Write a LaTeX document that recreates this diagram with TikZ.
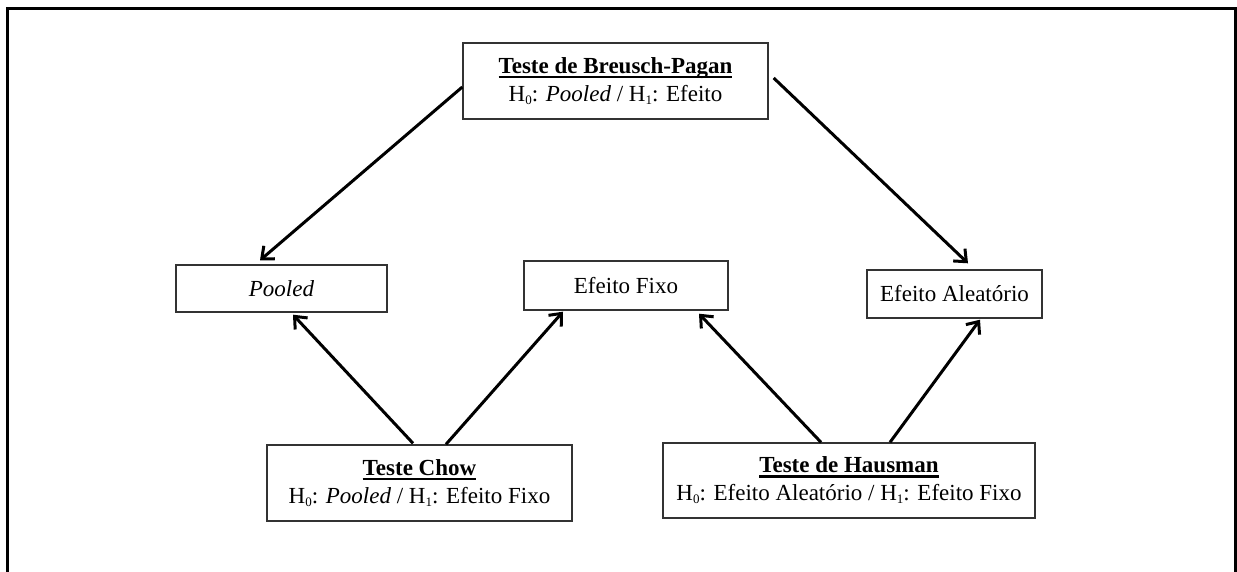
\documentclass[tikz,border=0pt]{standalone}
\usepackage{fontspec}
\setmainfont{Liberation Serif}
\usetikzlibrary{arrows.meta}
\newcommand\titleul[1]{\setbox0\hbox{\bfseries #1}\rlap{\rule[-5pt]{\wd0}{2.8pt}}\box0}
\newcommand\lowidx[1]{\raisebox{-3pt}{\fontsize{13}{13}\selectfont #1}}
\tikzset{
  box/.style={draw=black!80, line width=1.4pt, rectangle, inner sep=0pt, align=center,
    font=\fontsize{23}{28}\selectfont},
  conn/.style={line width=3pt, -{Straight Barb[length=10pt,width=17pt,line width=3pt]}},
  frame/.style={line width=3pt}
}
\begin{document}
\begin{tikzpicture}[x=1pt,y=-1pt]
\useasboundingbox (0,0) rectangle (1237,571);
\draw[frame] (7,580) -- (7,8.5) -- (1235.5,8.5) -- (1235.5,580);

\node[box, minimum width=305pt, minimum height=76pt] (bp) at (615.5,81)
  {\titleul{Teste de Breusch-Pagan}\\H\lowidx{0}: \textit{Pooled} / H\lowidx{1}: Efeito};
\begin{scope}
  \clip (470,100) rectangle (760,110.5);
  \node[font=\fontsize{23}{28}\selectfont, anchor=base] (bpcut) at (615.5,127.5) {Aleatório};
\end{scope}

\node[box, minimum width=211pt, minimum height=47pt] (pooled) at (281.5,288.5) {\textit{Pooled}};
\node[box, minimum width=204pt, minimum height=49pt] (fixo) at (626,285.5) {Efeito Fixo};
\node[box, minimum width=175pt, minimum height=48pt] (alea) at (954.5,294) {Efeito Aleatório};

\node[box, minimum width=305pt, minimum height=76pt] (chow) at (419.5,483)
  {\titleul{Teste Chow}\\H\lowidx{0}: \textit{Pooled} / H\lowidx{1}: Efeito Fixo};
\node[box, minimum width=372pt, minimum height=75pt] (haus) at (849,480.5)
  {\titleul{Teste de Hausman}\\H\lowidx{0}: Efeito Aleatório / H\lowidx{1}: Efeito Fixo};

\draw[conn] ([shift={(0pt,-6pt)}]bp.west) -- ([shift={(-21.5pt,4pt)}]pooled.north);
\draw[conn] ([shift={(5pt,3pt)}]bp.east) -- ([shift={(13.5pt,6pt)}]alea.north);
\draw[conn] ([shift={(-6.5pt,1pt)}]chow.north) -- ([shift={(11.5pt,-2pt)}]pooled.south);
\draw[conn] ([shift={(26.5pt,0pt)}]chow.north) -- ([shift={(-63pt,-1pt)}]fixo.south);
\draw[conn] ([shift={(-28pt,0pt)}]haus.north) -- ([shift={(73pt,-3pt)}]fixo.south);
\draw[conn] ([shift={(41pt,0pt)}]haus.north) -- ([shift={(25.5pt,-1pt)}]alea.south);
\end{tikzpicture}
\end{document}
